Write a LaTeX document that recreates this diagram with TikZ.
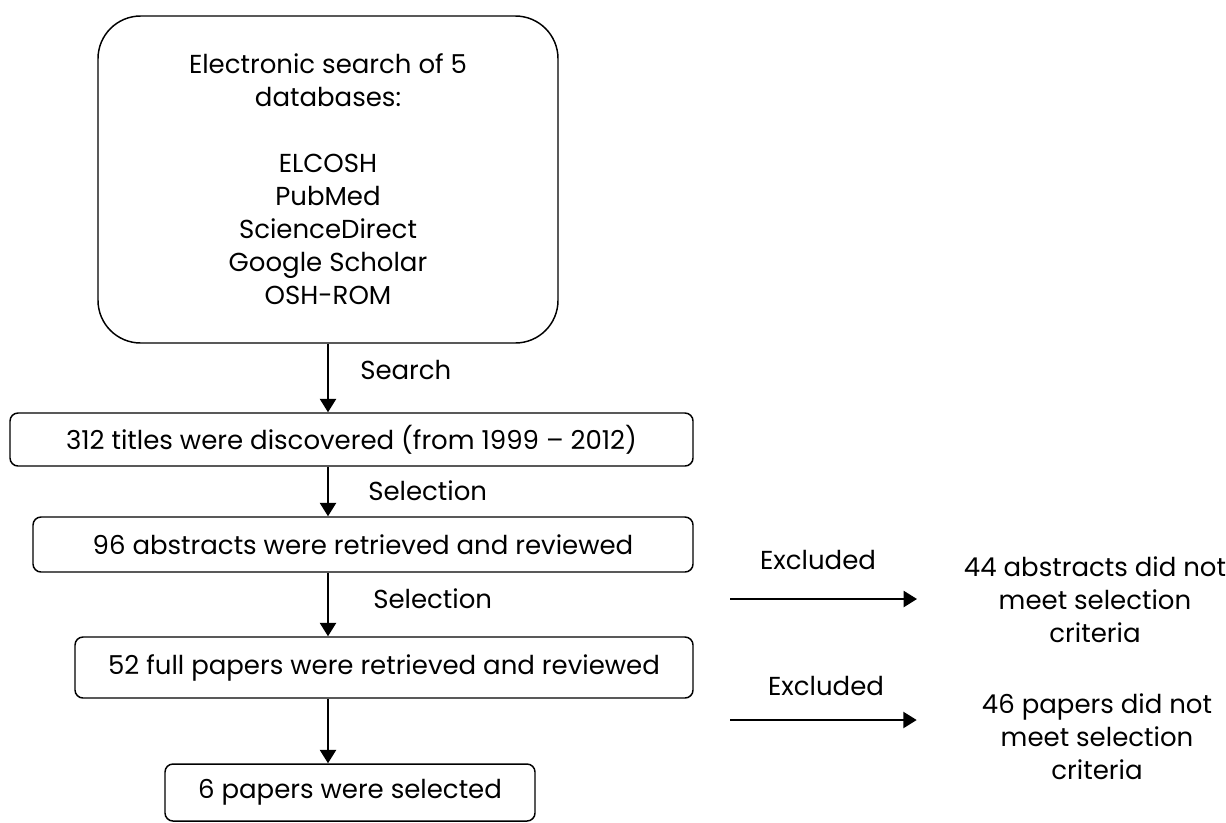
\documentclass[tikz,border=0pt]{standalone}
\usepackage{fontspec}
\setmainfont{Poppins}
\usetikzlibrary{arrows.meta}
\tikzset{
    box/.style={draw, line width=1.1pt, rounded corners=6pt, inner sep=0pt},
    flow/.style={line width=1.6pt, -{Triangle[length=10pt,width=12pt]}},
    lbl/.style={inner sep=0pt, anchor=base west}
}
\begin{document}
\begin{tikzpicture}[x=0.75pt, y=-0.75pt, font=\fontsize{19.5}{24.75}\selectfont]
        \useasboundingbox (0,0) rectangle (1226,822);
        \node[box, rounded corners=32pt, minimum width=345pt, minimum height=245.25pt, align=center] (db) at (328,179.5)
            {Electronic search of 5\\databases:\\[24.75pt]ELCOSH\\PubMed\\ScienceDirect\\Google Scholar\\OSH-ROM};
        \node[box, minimum width=512.25pt, minimum height=39.75pt] (titles) at (351.5,439.5) {312 titles were discovered (from 1999 -- 2012)};
        \node[box, minimum width=495pt, minimum height=41.25pt] (abs) at (363,544.5) {96 abstracts were retrieved and reviewed};
        \node[box, minimum width=463.5pt, minimum height=45.75pt] (full) at (384,667.5) {52 full papers were retrieved and reviewed};
        \node[box, minimum width=277.5pt, minimum height=42.75pt] (sel) at (350,792.5) {6 papers were selected\hspace{15pt}};
        \foreach \a/\b in {db/titles, titles/abs, abs/full, full/sel} \draw[flow] (\a.south -| db.south) -- (\b.north -| db.south);
        \node[lbl] at (360,379) {Search};
        \node[lbl] at (368,500) {Selection};
        \node[lbl] at (373,608) {Selection};
        % excluded branches
        \node[align=center, inner sep=0pt] (absout) at (1095,600) {44 abstracts did not\\meet selection\\criteria};
        \node[align=center, inner sep=0pt] (fullout) at (1097,737) {46 papers did not\\meet selection\\criteria};
        \coordinate (ex1) at (730,599); \coordinate (ex2) at (730,720);
        \draw[flow, shorten >=35pt] (ex1) -- (ex1 -| absout.west);
        \draw[flow, shorten >=48.75pt] (ex2) -- (ex2 -| fullout.west);
        \node[inner sep=0pt, anchor=base] at (818,569) {Excluded};
        \node[inner sep=0pt, anchor=base] at (826,695) {Excluded};
    \end{tikzpicture}
\end{document}
